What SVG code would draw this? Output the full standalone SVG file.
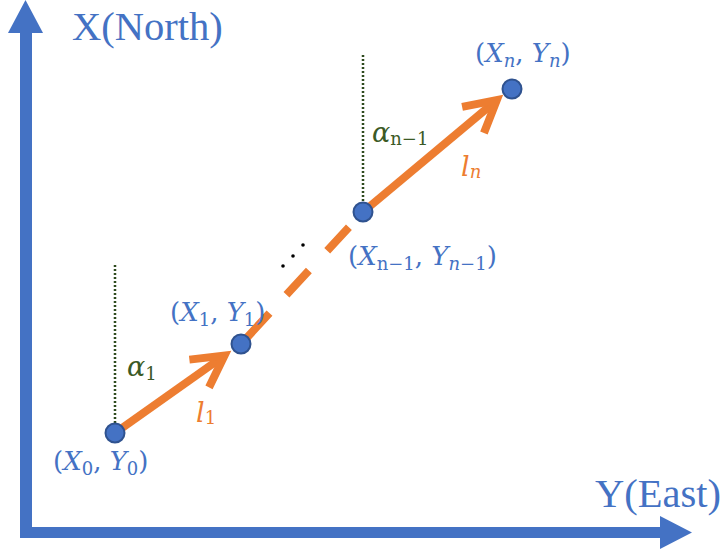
<svg xmlns="http://www.w3.org/2000/svg" width="725" height="552" viewBox="0 0 725 552">
<style>
.axis{fill:#4472C4}
.axlbl{font-family:"Liberation Serif","Times New Roman",serif;font-size:40.5px;fill:#4472C4}
.pt{fill:#4472C4;stroke:#2F528F;stroke-width:2}
.plbl{font-family:"DejaVu Serif","Liberation Serif",serif;font-size:26px;fill:#4472C4}
.it{font-style:italic}
.sub{font-size:18px}
.ang{font-family:"DejaVu Serif","Liberation Serif",serif;font-size:27px;fill:#3B5A26}
.len{font-family:"DejaVu Serif","Liberation Serif",serif;font-size:27px;fill:#ED7D31}
.seg{stroke:#ED7D31;stroke-width:8;fill:none;stroke-linecap:butt}
.ref{stroke:#2E4A1E;stroke-width:2.5;stroke-dasharray:2 2;fill:none}
</style>
<defs>
<marker id="chev" markerUnits="userSpaceOnUse" orient="auto" overflow="visible" markerWidth="1" markerHeight="1" refX="0" refY="0">
<path d="M-31,-17 L0,0 L-31,17" fill="none" stroke="#ED7D31" stroke-width="8" stroke-linejoin="miter" stroke-linecap="butt"/>
</marker>
</defs>
<g id="axes">
<rect class="axis" x="20" y="30" width="12" height="508"/>
<polygon class="axis" points="8,33 25.5,0 43,33"/>
<rect class="axis" x="20" y="527" width="642" height="11"/>
<polygon class="axis" points="660,516 692,532.5 660,549"/>
<text class="axlbl" x="72" y="40">X(North)</text>
<text class="axlbl" x="595" y="507">Y(East)</text>
</g>
<g id="reference-lines">
<line class="ref" x1="115" y1="265" x2="115" y2="425"/>
<line class="ref" x1="363" y1="55" x2="363" y2="204"/>
</g>
<g id="connectors">
<line class="seg" x1="115" y1="433" x2="224.5" y2="355.6" marker-end="url(#chev)"/>
<line class="seg" x1="241" y1="344" x2="363" y2="212" stroke-dasharray="42 25 33 27 32 40"/>
<line class="seg" x1="363" y1="212" x2="496.8" y2="100.1" marker-end="url(#chev)"/>
<circle cx="283" cy="266" r="1.8" fill="#000"/>
<circle cx="293" cy="256" r="1.8" fill="#000"/>
<circle cx="303" cy="245" r="1.8" fill="#000"/>
</g>
<g id="p0">
<circle class="pt" cx="115" cy="433" r="9.5"/>
<text class="plbl" x="53" y="470">(<tspan class="it">X</tspan><tspan class="sub" dy="5">0</tspan><tspan dy="-5">, </tspan><tspan class="it">Y</tspan><tspan class="sub" dy="5">0</tspan><tspan dy="-5">)</tspan></text>
</g>
<g id="p1">
<circle class="pt" cx="241" cy="344" r="9.5"/>
<text class="plbl" x="170" y="321">(<tspan class="it">X</tspan><tspan class="sub" dy="5">1</tspan><tspan dy="-5">, </tspan><tspan class="it">Y</tspan><tspan class="sub" dy="5">1</tspan><tspan dy="-5">)</tspan></text>
</g>
<g id="pn1">
<circle class="pt" cx="363" cy="212" r="9.5"/>
<text class="plbl" x="348" y="265">(<tspan class="it">X</tspan><tspan class="sub" dy="5">n−1</tspan><tspan dy="-5">, </tspan><tspan class="it">Y</tspan><tspan class="sub" dy="5"><tspan class="it">n</tspan>−1</tspan><tspan dy="-5">)</tspan></text>
</g>
<g id="pn">
<circle class="pt" cx="512" cy="89" r="9.5"/>
<text class="plbl" x="475" y="62">(<tspan class="it">X</tspan><tspan class="sub it" dy="5">n</tspan><tspan dy="-5">, </tspan><tspan class="it">Y</tspan><tspan class="sub it" dy="5">n</tspan><tspan dy="-5">)</tspan></text>
</g>
<g id="labels">
<text class="ang" x="127" y="376"><tspan class="it">α</tspan><tspan class="sub" dy="4">1</tspan></text>
<text class="len" x="196" y="422"><tspan class="it">l</tspan><tspan class="sub" dy="2">1</tspan></text>
<text class="ang" x="372" y="142"><tspan class="it">α</tspan><tspan class="sub" dy="3">n−1</tspan></text>
<text class="len" x="461" y="176"><tspan class="it">l</tspan><tspan class="sub it" dy="2">n</tspan></text>
</g>
</svg>
